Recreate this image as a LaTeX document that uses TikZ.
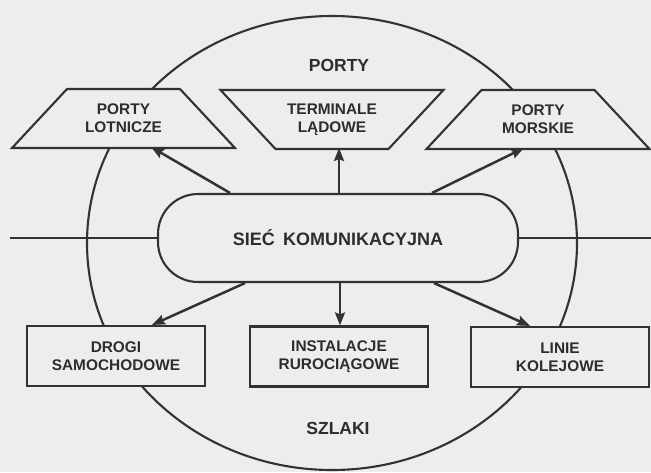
\documentclass[tikz,border=0pt]{standalone}
\usepackage{fontspec}
\setmainfont{Liberation Sans}
\usetikzlibrary{calc,arrows.meta}
\definecolor{paper}{RGB}{237,237,237}
\definecolor{ink}{RGB}{50,50,50}
\definecolor{txt}{RGB}{45,45,45}
\newcommand{\labelfont}{\fontsize{15.4pt}{18pt}\selectfont\bfseries}
\newcommand{\titlefont}{\fontsize{17.5pt}{20pt}\selectfont\bfseries}
\newcommand{\hubfont}{\fontsize{18pt}{20pt}\selectfont\bfseries}
\pgfdeclarelayer{back}
\pgfdeclarelayer{frames}
\pgfsetlayers{back,frames,main}

\begin{document}
\begin{tikzpicture}[x=1pt,y=-1pt,
  outline/.style={draw=ink, line width=2.1pt},
  frame/.style={outline, fill=paper, line join=miter},
  porttext/.style={text=txt, font=\labelfont, align=center,
    minimum width=113pt, minimum height=59pt, inner sep=0pt, outer sep=0pt},
  route/.style={outline, fill=paper, text=txt, font=\labelfont, align=center,
    minimum width=178pt, minimum height=60pt, inner sep=0pt},
  hub/.style={outline, fill=paper, text=txt, font=\hubfont, rounded corners=40pt,
    minimum width=360pt, minimum height=88pt},
  link/.style={draw=ink, line width=2.5pt, -{Stealth[length=13pt,width=10pt,inset=2pt]}},
  title/.style={text=txt, font=\titlefont}
]
% paper and the ring behind everything
\begin{pgfonlayer}{back}
  \fill[paper] (0,0) rectangle (651,472);
  \draw[outline] (332,243) ellipse [x radius=245, y radius=227];
\end{pgfonlayer}
\useasboundingbox (0,0) rectangle (651,472);

% section titles
\node[title] (ports) at (339,65) {PORTY};
\node[title] (routes) at (338,428) {SZLAKI};

% central network
\node[hub] (net) at (338,238) {SIEĆ\hspace{0.45em}KOMUNIKACYJNA};
\coordinate (wl) at (10,238);
\coordinate (wr) at (651,238);
\draw[outline] (wl) -- (net.west);
\draw[outline] (net.east) -- (wr);

% ports: the label nodes carry the narrow side of each trapezoid
\node[porttext] (air)  at (123.5,118.5) {PORTY\\LOTNICZE};
\node[porttext] (land) at (332,119.5)   {TERMINALE\\LĄDOWE};
\node[porttext] (sea)  at (538,119.5)   {PORTY\\MORSKIE};
\begin{pgfonlayer}{frames}
  \draw[frame] (air.north west) -- (air.north east)
    -- ($(air.south east)+(55,0)$) -- ($(air.south west)+(-55,0)$) -- cycle;
  \draw[frame] (land.south west) -- (land.south east)
    -- ($(land.north east)+(55,0)$) -- ($(land.north west)+(-55,0)$) -- cycle;
  \draw[frame] (sea.north west) -- (sea.north east)
    -- ($(sea.south east)+(55,0)$) -- ($(sea.south west)+(-55,0)$) -- cycle;
\end{pgfonlayer}

% routes
\node[route] (road) at (116,356)   {DROGI\\SAMOCHODOWE};
\node[route] (pipe) at (339,356.5) {INSTALACJE\\RUROCIĄGOWE};
\node[route] (rail) at (560,357)   {LINIE\\KOLEJOWE};

% connections
\draw[link] ($(net.north)+(-108,0)$) -- ($(air.south)+(27.5,-1)$);
\draw[link] ($(net.north)+(1,0)$)    -- ($(land.south)+(7,-1)$);
\draw[link] ($(net.north)+(94,0)$)   -- ($(sea.south)+(-14,-1)$);
\draw[link] ($(net.south)+(-93,0)$)  -- ($(road.north)+(36,0)$);
\draw[link] ($(net.south)+(2,0)$)    -- ($(pipe.north)+(1,0)$);
\draw[link] ($(net.south)+(96,0)$)   -- ($(rail.north)+(-30,0)$);
\end{tikzpicture}
\end{document}
